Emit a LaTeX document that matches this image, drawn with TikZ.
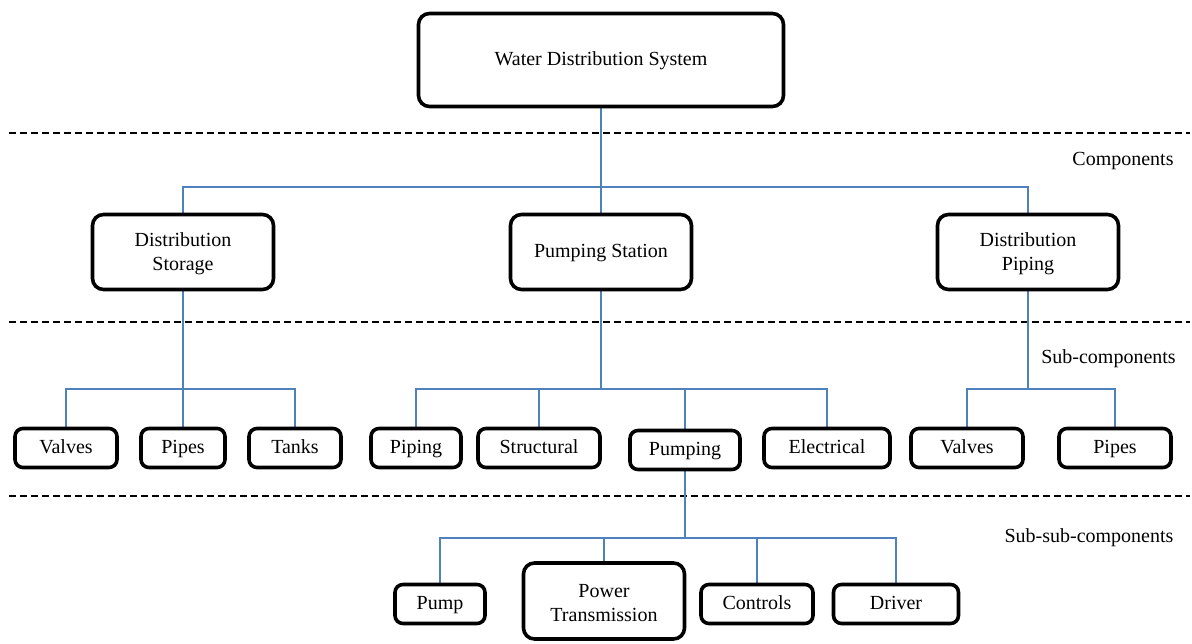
\documentclass[tikz,border=0pt]{standalone}
\usepackage{fontspec}
\setmainfont{Liberation Serif}
\usepackage{tikz}
\usepackage{xcolor}
\usetikzlibrary{calc,backgrounds}
\definecolor{linkblue}{RGB}{79,129,189}
\newcommand{\topstrut}{\rule{0pt}{18pt}}

\begin{document}
\begin{tikzpicture}[x=1pt,y=-1pt]
        \tikzstyle{box}=[draw,line width=3.6pt,rounded corners=8pt,fill=white,align=center,inner sep=0pt,font=\fontsize{20}{24}\selectfont]
        \tikzstyle{oneline}=[text height=16pt,text depth=4.5pt]
        \tikzstyle{bigbox}=[box,rounded corners=11pt,minimum width=181pt,minimum height=75pt]
        \tikzstyle{smallbox}=[box,oneline,minimum height=39pt]
        \tikzstyle{link}=[draw=linkblue,line width=1.8pt]
        \tikzstyle{sep}=[line width=1.4pt,dash pattern=on 6.5pt off 4.5pt]
        \tikzstyle{levellabel}=[inner sep=0pt,font=\fontsize{20}{24}\selectfont]

            \useasboundingbox (0,0) rectangle (1192,644);

            \node[bigbox,oneline,minimum width=365pt,minimum height=93pt] (WDS) at (601,60) {Water Distribution System};

            \node[bigbox] (DS) at (183,252) {\topstrut Distribution\\Storage};
            \node[bigbox,oneline] (PS) at (601,252) {Pumping Station};
            \node[bigbox] (DP) at (1028,252) {\topstrut Distribution\\Piping};

            \node[smallbox,minimum width=102pt] (DSvalves) at ($(DS)+(-117,196)$) {Valves};
            \node[smallbox,minimum width=84pt] (DSpipes) at ($(DS)+(0,196)$) {Pipes};
            \node[smallbox,minimum width=92pt] (DStanks) at ($(DS)+(112,196)$) {Tanks};

            \node[smallbox,minimum width=90pt] (PSpiping) at ($(PS)+(-185,196)$) {Piping};
            \node[smallbox,minimum width=122pt] (PSstruct) at ($(PS)+(-62,196)$) {Structural};
            \node[smallbox,minimum width=110pt] (PSpump) at ($(PS)+(84,198)$) {Pumping};
            \node[smallbox,minimum width=126pt] (PSelec) at ($(PS)+(226,196)$) {Electrical};

            \node[smallbox,minimum width=112pt] (DPvalves) at ($(DP)+(-61,196)$) {Valves};
            \node[smallbox,minimum width=112pt] (DPpipes) at ($(DP)+(87,196)$) {Pipes};

            \node[smallbox,minimum width=90pt] (PPpump) at ($(PSpump)+(-245,154)$) {Pump};
            \node[box,rounded corners=11pt,minimum width=161pt,minimum height=76pt] (PPpower) at ($(PSpump)+(-81,151)$) {\topstrut Power\\Transmission};
            \node[smallbox,minimum width=112pt] (PPcontrols) at ($(PSpump)+(72,154)$) {Controls};
            \node[smallbox,minimum width=125pt] (PPdriver) at ($(PSpump)+(211,154)$) {Driver};

            \node[levellabel] (L1) at (1123,161) {Components};
            \node[levellabel] (L2) at (1108.5,359) {Sub-components};
            \node[levellabel] (L3) at (1089,538) {Sub-sub-components};

            \coordinate (bus1) at (0,187);
            \coordinate (bus2) at (0,389);
            \coordinate (bus3) at (0,538);

            \begin{scope}[on background layer]
            \draw[sep] (9,133) -- (1190,133);
            \draw[sep] (9,322) -- (1190,322);
            \draw[sep] (9,496) -- (1190,496);

            \draw[link] (WDS.south) -- (WDS.south |- bus1) -| (DS.north);
            \draw[link] (WDS.south) -- (PS.north);
            \draw[link] (WDS.south |- bus1) -| (DP.north);

            \draw[link] (DS.south) -- (DSpipes.north);
            \draw[link] (DS.south |- bus2) -| (DSvalves.north);
            \draw[link] (DS.south |- bus2) -| (DStanks.north);

            \draw[link] (PS.south) -- (PS.south |- bus2) -| (PSpiping.north);
            \draw[link] (PS.south |- bus2) -| (PSstruct.north);
            \draw[link] (PS.south |- bus2) -| (PSpump.north);
            \draw[link] (PS.south |- bus2) -| (PSelec.north);

            \draw[link] (DP.south) -- (DP.south |- bus2) -| (DPvalves.north);
            \draw[link] (DP.south |- bus2) -| (DPpipes.north);

            \draw[link] (PSpump.south) -- (PSpump.south |- bus3) -| (PPpump.north);
            \draw[link] (PSpump.south |- bus3) -| (PPpower.north);
            \draw[link] (PSpump.south |- bus3) -| (PPcontrols.north);
            \draw[link] (PSpump.south |- bus3) -| (PPdriver.north);
            \end{scope}

        \end{tikzpicture}
\end{document}
